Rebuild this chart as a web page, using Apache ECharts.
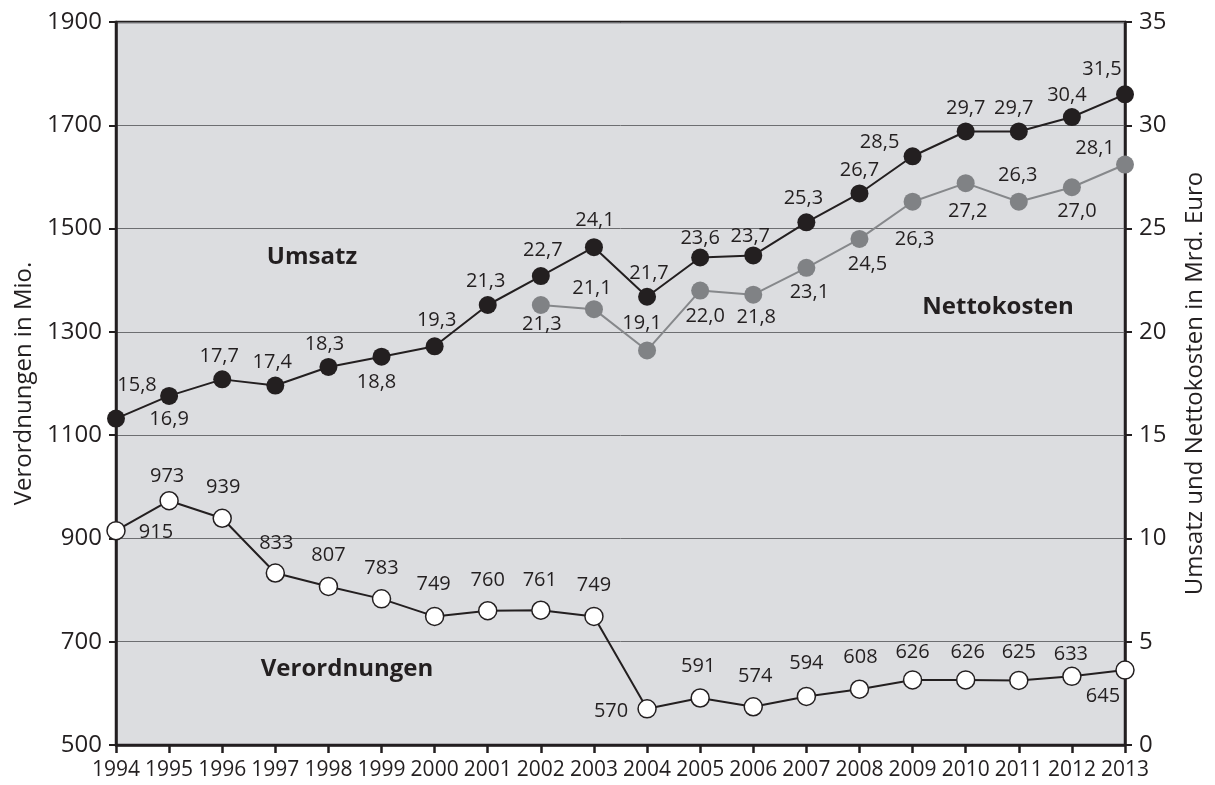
<!DOCTYPE html>
<html>
<head>
<meta charset="utf-8">
<script src="https://cdn.jsdelivr.net/npm/echarts@6.0.0/dist/echarts.min.js"></script>
<style>
html,body{margin:0;padding:0;background:#fff;}
#chart{width:1215px;height:785px;}
</style>
</head>
<body>
<div id="chart"></div>
<script>
// ---- data ----
var years = ['1994','1995','1996','1997','1998','1999','2000','2001','2002','2003','2004','2005','2006','2007','2008','2009','2010','2011','2012','2013'];
var umsatz = [15.8,16.9,17.7,17.4,18.3,18.8,19.3,21.3,22.7,24.1,21.7,23.6,23.7,25.3,26.7,28.5,29.7,29.7,30.4,31.5];
var nettokosten = [null,null,null,null,null,null,null,null,21.3,21.1,19.1,22.0,21.8,23.1,24.5,26.3,27.2,26.3,27.0,28.1];
var verordnungen = [915,973,939,833,807,783,749,760,761,749,570,591,574,594,608,626,626,625,633,645];
var leftTicks = [500,700,900,1100,1300,1500,1700,1900];
var rightTicks = [0,5,10,15,20,25,30,35];

// ---- label placement (style) ----
var umsatzLabelOffset = [[21,-33],[0,23],[-3,-23],[-3,-23],[-4,-23],[-5,26],[2,-26],[-2,-24],[2,-26],[1,-27],[2,-23],[0,-19],[-3,-19],[-3,-24],[0,-23],[-33,-14],[0,-23],[-5,-23],[-5,-22],[-23,-25]];
var nettoLabelOffset = [null,null,null,null,null,null,null,null,[1,19],[-2,-21],[-5,-27],[5,26],[3,23],[3,24],[8,25],[2,38],[2,28],[-1,-26],[5,24],[-30,-16]];
var verordLabelOffset = [[40,2],[-2,-24],[1,-31],[1,-30],[0,-31],[0,-31],[-1,-32],[0,-30],[-1,-30],[0,-31],[-36,2],[-2,-32],[2,-30],[0,-33],[1,-32],[0,-28],[2,-28],[0,-28],[-1,-22],[-22,26]];

var FONT = '"Open Sans", sans-serif';
var NARROW = '"Liberation Sans Narrow", "Open Sans", sans-serif';
var DARK = '#231f20';

function fmtDe(v){ return v.toFixed(1).replace('.', ','); }

function buildData(values, offsets, decimals){
  return values.map(function(v, i){
    if (v === null) return null;
    return {
      value: v,
      label: {
        show: true,
        position: 'inside',
        offset: offsets[i],
        formatter: decimals ? fmtDe(v) : String(v)
      }
    };
  });
}

var chart = echarts.init(document.getElementById('chart'), null, {renderer: 'canvas'});

var labelStyle = {
  show: true,
  color: DARK,
  fontFamily: FONT,
  fontSize: 20,
  align: 'center',
  verticalAlign: 'middle'
};

chart.setOption({
  animation: false,
  backgroundColor: '#ffffff',
  textStyle: {fontFamily: FONT},
  grid: {
    left: 116, right: 90, top: 22, bottom: 40,
    show: true,
    backgroundColor: '#dcdde0',
    borderColor: DARK,
    borderWidth: 2.5
  },
  xAxis: {
    type: 'category',
    data: years,
    boundaryGap: false,
    axisLine: {show: true, lineStyle: {color: DARK, width: 2.5}},
    axisTick: {show: true, alignWithLabel: true, length: 8, lineStyle: {color: DARK, width: 2.5}},
    axisLabel: {color: DARK, fontFamily: NARROW, fontSize: 21, margin: 15, interval: 0},
    splitLine: {show: false}
  },
  yAxis: [{
    type: 'value',
    position: 'left',
    min: leftTicks[0], max: leftTicks[leftTicks.length-1], interval: leftTicks[1]-leftTicks[0],
    name: 'Verordnungen in Mio.',
    nameLocation: 'middle',
    nameGap: 72,
    nameTextStyle: {color: DARK, fontFamily: FONT, fontSize: 24},
    axisLine: {show: true, lineStyle: {color: DARK, width: 2.5}},
    axisTick: {show: true, length: 7, lineStyle: {color: DARK, width: 2}},
    axisLabel: {color: DARK, fontFamily: FONT, fontSize: 24, margin: 14, formatter: function(v){ return String(v); }},
    splitLine: {show: true, lineStyle: {color: '#6d6e71', width: 1}}
  }, {
    type: 'value',
    position: 'right',
    min: rightTicks[0], max: rightTicks[rightTicks.length-1], interval: rightTicks[1]-rightTicks[0],
    name: 'Umsatz und Nettokosten in Mrd. Euro',
    nameLocation: 'middle',
    nameGap: 58,
    nameTextStyle: {color: DARK, fontFamily: FONT, fontSize: 24},
    axisLine: {show: true, lineStyle: {color: DARK, width: 2.5}},
    axisTick: {show: true, length: 7, lineStyle: {color: DARK, width: 2}},
    axisLabel: {color: DARK, fontFamily: FONT, fontSize: 24, margin: 14, formatter: function(v){ return String(v); }},
    splitLine: {show: false}
  }],
  series: [{
    name: 'Verordnungen',
    type: 'line',
    yAxisIndex: 0,
    data: buildData(verordnungen, verordLabelOffset, false),
    symbol: 'circle',
    symbolSize: 18,
    lineStyle: {color: DARK, width: 2},
    itemStyle: {color: '#ffffff', borderColor: DARK, borderWidth: 1.5},
    label: labelStyle,
    z: 3
  }, {
    name: 'Nettokosten',
    type: 'line',
    yAxisIndex: 1,
    data: buildData(nettokosten, nettoLabelOffset, true),
    symbol: 'circle',
    symbolSize: 18,
    connectNulls: false,
    lineStyle: {color: '#86888b', width: 2},
    itemStyle: {color: '#808285', borderWidth: 0},
    label: labelStyle,
    z: 3
  }, {
    name: 'Umsatz',
    type: 'line',
    yAxisIndex: 1,
    data: buildData(umsatz, umsatzLabelOffset, true),
    symbol: 'circle',
    symbolSize: 18,
    lineStyle: {color: DARK, width: 2},
    itemStyle: {color: DARK, borderWidth: 0},
    label: labelStyle,
    z: 4
  }],
  graphic: [
    {type: 'text', x: 312, y: 257, style: {text: 'Umsatz', font: 'bold 24px ' + FONT, fill: DARK, textAlign: 'center', textVerticalAlign: 'middle'}, z: 10},
    {type: 'text', x: 998, y: 307, style: {text: 'Nettokosten', font: 'bold 24px ' + FONT, fill: DARK, textAlign: 'center', textVerticalAlign: 'middle'}, z: 10},
    {type: 'text', x: 347, y: 669, style: {text: 'Verordnungen', font: 'bold 24px ' + FONT, fill: DARK, textAlign: 'center', textVerticalAlign: 'middle'}, z: 10}
  ]
});
</script>
</body>
</html>
